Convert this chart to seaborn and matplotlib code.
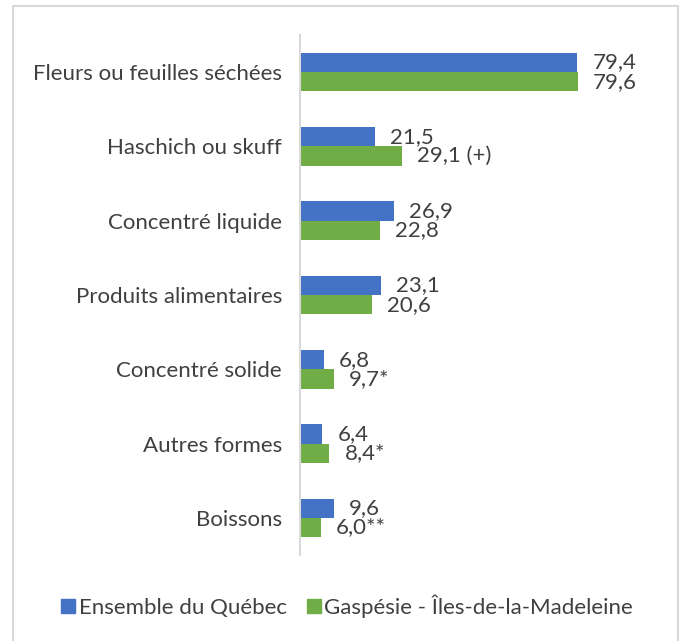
import matplotlib
matplotlib.use('Agg')
import matplotlib.pyplot as plt
import pandas as pd
import seaborn as sns
from matplotlib.patches import Rectangle

categories = ["Fleurs ou feuilles séchées", "Haschich ou skuff", "Concentré liquide",
              "Produits alimentaires", "Concentré solide", "Autres formes", "Boissons"]
quebec = [79.4, 21.5, 26.9, 23.1, 6.8, 6.4, 9.6]
gaspesie = [79.6, 29.1, 22.8, 20.6, 9.7, 8.4, 6.0]
quebec_labels = ["79,4", "21,5", "26,9", "23,1", "6,8", "6,4", "9,6"]
gaspesie_labels = ["79,6", "29,1 (+)", "22,8", "20,6", "9,7*", "8,4*", "6,0**"]
series = ["Ensemble du Québec", "Gaspésie - Îles-de-la-Madeleine"]
colors = ["#4472C4", "#70AD47"]

df = pd.DataFrame({
    "cat": categories * 2,
    "val": quebec + gaspesie,
    "serie": [series[0]] * 7 + [series[1]] * 7,
})

sns.set_theme(style="white")
plt.rcParams['font.family'] = ['Lato', 'DejaVu Sans']

W, H = 682, 641
fig = plt.figure(figsize=(W / 100, H / 100), dpi=100)
ax = fig.add_axes([300 / W, 1 - 555 / H, 370 / W, 520 / H])

sns.barplot(data=df, y="cat", x="val", hue="serie", palette=colors, orient="h",
            width=0.52, gap=0, ax=ax, legend=False, saturation=1, linewidth=0)

ax.set_xlim(0, 370 / 3.49)
ax.set_ylim(6.5, -0.5)
ax.set_xlabel("")
ax.set_ylabel("")
ax.set_xticks([])
for s in ["top", "right", "bottom"]:
    ax.spines[s].set_visible(False)
ax.spines["left"].set_color("#D9D9D9")
ax.spines["left"].set_linewidth(1.5)
ax.tick_params(axis="y", length=0, pad=13, labelsize=16, labelcolor="#404040")

for container, labels in zip(ax.containers, [quebec_labels, gaspesie_labels]):
    ax.bar_label(container, labels=labels, padding=11, fontsize=16, color="#404040")

fig.patches.append(Rectangle((13 / W, -0.01), (678 - 13) / W, 1 - 6 / H - (-0.01),
                             transform=fig.transFigure, fill=False,
                             edgecolor="#D9D9D9", linewidth=1.5))

handles = [Rectangle((0, 0), 1, 1, color=c) for c in colors]
fig.legend(handles, series, loc="center", bbox_to_anchor=(347 / W, 1 - 606 / H),
           ncol=2, frameon=False, fontsize=16, handlelength=0.65, handleheight=0.65,
           handletextpad=0.15, columnspacing=0.9, labelcolor="#404040")

fig.savefig("out.png", dpi=100)
